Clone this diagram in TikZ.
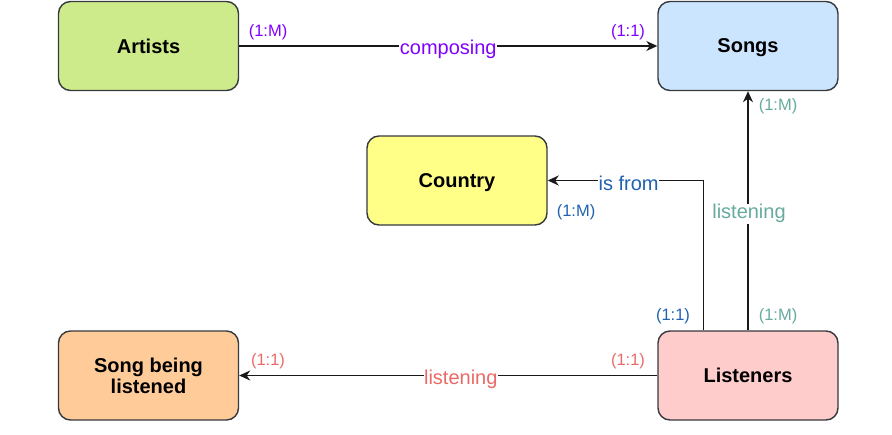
\documentclass[tikz,border=0pt]{standalone}
\usepackage{fontspec}
\setmainfont{Liberation Sans}
\usetikzlibrary{arrows.meta,calc}
\definecolor{bordc}{HTML}{36393D}
\definecolor{cgreen}{HTML}{CDEB8B}
\definecolor{cblue}{HTML}{CCE5FF}
\definecolor{cyellow}{HTML}{FFFF88}
\definecolor{corange}{HTML}{FFCC99}
\definecolor{cpink}{HTML}{FFCCCC}
\definecolor{lpurple}{HTML}{7F00FF}
\definecolor{lteal}{HTML}{67AB9F}
\definecolor{lblue}{HTML}{1F62AE}
\definecolor{lred}{HTML}{EA6B66}
\tikzset{
  entity/.style={draw=bordc, line width=1.4pt, rounded corners=12pt, minimum width=180pt, minimum height=89pt, align=center, font=\bfseries\fontsize{20}{23}\selectfont, inner sep=0pt},
  oneline/.style={text depth=0pt},
  conn/.style={line width=1.5pt, draw=black!90, -{Stealth[length=11pt,width=10pt,inset=3.5pt]}},
  elabel/.style={fill=white, inner sep=0.5pt, font=\fontsize{20}{24}\selectfont},
  card/.style={inner sep=0pt, font=\fontsize{16.5}{19}\selectfont},
}
\begin{document}
\begin{tikzpicture}[x=1pt,y=-1pt]
\useasboundingbox (0,0) rectangle (892,434);
\node[entity, oneline, fill=cgreen] (artists) at (148.5,46) {Artists};
\node[entity, oneline, fill=cblue] (songs) at (748,46) {Songs};
\node[entity, oneline, fill=cyellow] (country) at (457,180.5) {Country};
\node[entity, fill=corange] (sbl) at (148.5,375.5) {Song being\\[-2pt]listened};
\node[entity, oneline, fill=cpink] (listeners) at (748,375.5) {Listeners};

\coordinate (lt1) at ($(listeners.north west)+(46,0)$);
\coordinate (bend) at (lt1 |- country.east);

\draw[conn] (artists.east) -- node[elabel, text=lpurple, pos=0.5, yshift=-3pt] {composing} (songs.west);
\draw[conn] (listeners.north) -- node[elabel, text=lteal, pos=0.5, xshift=1pt, yshift=-3pt] {listening} (songs.south);
\draw[conn] (lt1) -- (bend) -- node[elabel, text=lblue, pos=0.48, yshift=-3pt] {is from} (country.east);
\draw[conn] (listeners.west) -- node[elabel, text=lred, pos=0.47, yshift=-4pt] {listening} (sbl.east);

\node[card, text=lpurple] (c1) at (268,32) {(1:M)};
\node[card, text=lpurple] (c2) at (628,32) {(1:1)};
\node[card, text=lteal] (c3) at (778,106) {(1:M)};
\node[card, text=lteal] (c4) at (778,316) {(1:M)};
\node[card, text=lblue] (c5) at (576,212) {(1:M)};
\node[card, text=lblue] (c6) at (673,316) {(1:1)};
\node[card, text=lred] (c7) at (268,361) {(1:1)};
\node[card, text=lred] (c8) at (628,361) {(1:1)};
\end{tikzpicture}
\end{document}
